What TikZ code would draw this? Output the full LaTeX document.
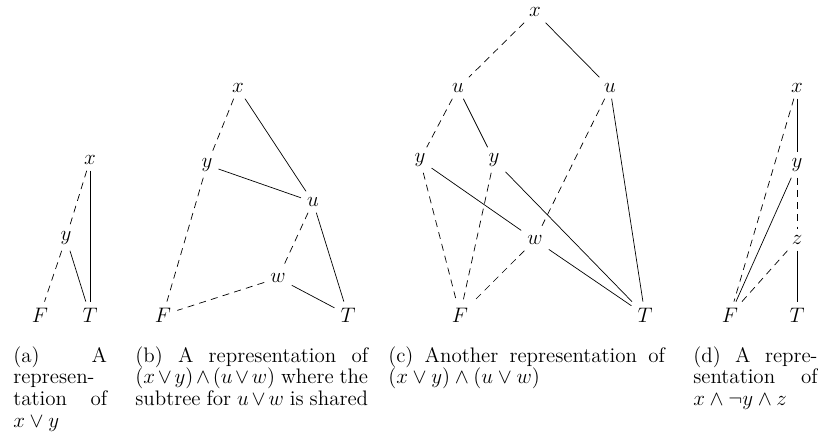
\documentclass[tikz,border=0pt]{standalone}
\usepackage{tikz}
\usetikzlibrary{positioning}

\begin{document}
\begin{tikzpicture}[
    x=0.5714pt, y=-0.5714pt,
    var/.style={font=\large},
    low/.style={draw, dash pattern=on 4pt off 3pt},
    high/.style={draw},
    subcap/.style={anchor=north west, inner sep=0pt, text width=#1,
                   align=justify, font=\fontsize{12}{12.4}\selectfont},
]
    \useasboundingbox (0,0) rectangle (818,433);

    % (a) x or y
    \node[var] (ax) at (90,160) {$x$};
    \node[var] (ay) at (66,238) {$y$};
    \node[var] (aF) at (40,315) {$F$};
    \node[var] (aT) at (90,315) {$T$};
    \draw[low] (ax) -- (ay);
    \draw[high] (ax) -- (aT);
    \draw[low] (ay) -- (aF);
    \draw[high] (ay) -- (aT);
    \node[subcap=53.6pt] (capa) at (13,346)
        {(a) A represen\-tation of $x \vee y$};

    % (b) shared subtree
    \node[var] (bx) at (238,88) {$x$};
    \node[var] (by) at (207,165) {$y$};
    \node[var] (bu) at (313,202) {$u$};
    \node[var] (bw) at (278,278) {$w$};
    \node[var] (bF) at (163,315) {$F$};
    \node[var] (bT) at (348,315) {$T$};
    \draw[low] (bx) -- (by);
    \draw[high] (bx) -- (bu);
    \draw[low] (by) -- (bF);
    \draw[high] (by) -- (bu);
    \draw[low] (bu) -- (bw);
    \draw[high] (bu) -- (bT);
    \draw[low] (bw) -- (bF);
    \draw[high] (bw) -- (bT);
    \node[subcap=133pt] (capb) at (135,346)
        {(b) A representation of
         $\binoppenalty=10000 \relpenalty=10000 (x\vee y)\wedge(u\vee w)$
         where the subtree for $u\vee w$ is shared};

    % (c) no sharing
    \node[var] (cx) at (535,12) {$x$};
    \node[var] (cu1) at (458,88) {$u$};
    \node[var] (cu2) at (610,88) {$u$};
    \node[var] (cy1) at (420,160) {$y$};
    \node[var] (cy2) at (494,160) {$y$};
    \node[var] (cw) at (535,240) {$w$};
    \node[var] (cF) at (460,315) {$F$};
    \node[var] (cT) at (645,315) {$T$};
    \draw[low] (cx) -- (cu1);
    \draw[high] (cx) -- (cu2);
    \draw[low] (cu1) -- (cy1);
    \draw[high] (cu1) -- (cy2);
    \draw[low] (cu2) -- (cw);
    \draw[high] (cu2) -- (cT);
    \draw[low] (cy1) -- (cF);
    \draw[high] (cy1) -- (cw);
    \draw[low] (cy2) -- (cF);
    \draw[high] (cy2) -- (cT);
    \draw[low] (cw) -- (cF);
    \draw[high] (cw) -- (cT);
    \node[subcap=158pt] (capc) at (388,346)
        {(c) Another representation of \mbox{$(x \vee y) \wedge (u \vee w)$}};

    % (d) x and not y and z
    \node[var] (dx) at (797,88) {$x$};
    \node[var] (dy) at (797,165) {$y$};
    \node[var] (dz) at (797,240) {$z$};
    \node[var] (dF) at (730,315) {$F$};
    \node[var] (dT) at (797,315) {$T$};
    \draw[low] (dx) -- (dF);
    \draw[high] (dx) -- (dy);
    \draw[high] (dy) -- (dF);
    \draw[low] (dy) -- (dz);
    \draw[low] (dz) -- (dF);
    \draw[high] (dz) -- (dT);
    \node[subcap=71pt] (capd) at (693,346)
        {(d) A repre\-sentation of $x \wedge \neg y \wedge z$};
\end{tikzpicture}
\end{document}
